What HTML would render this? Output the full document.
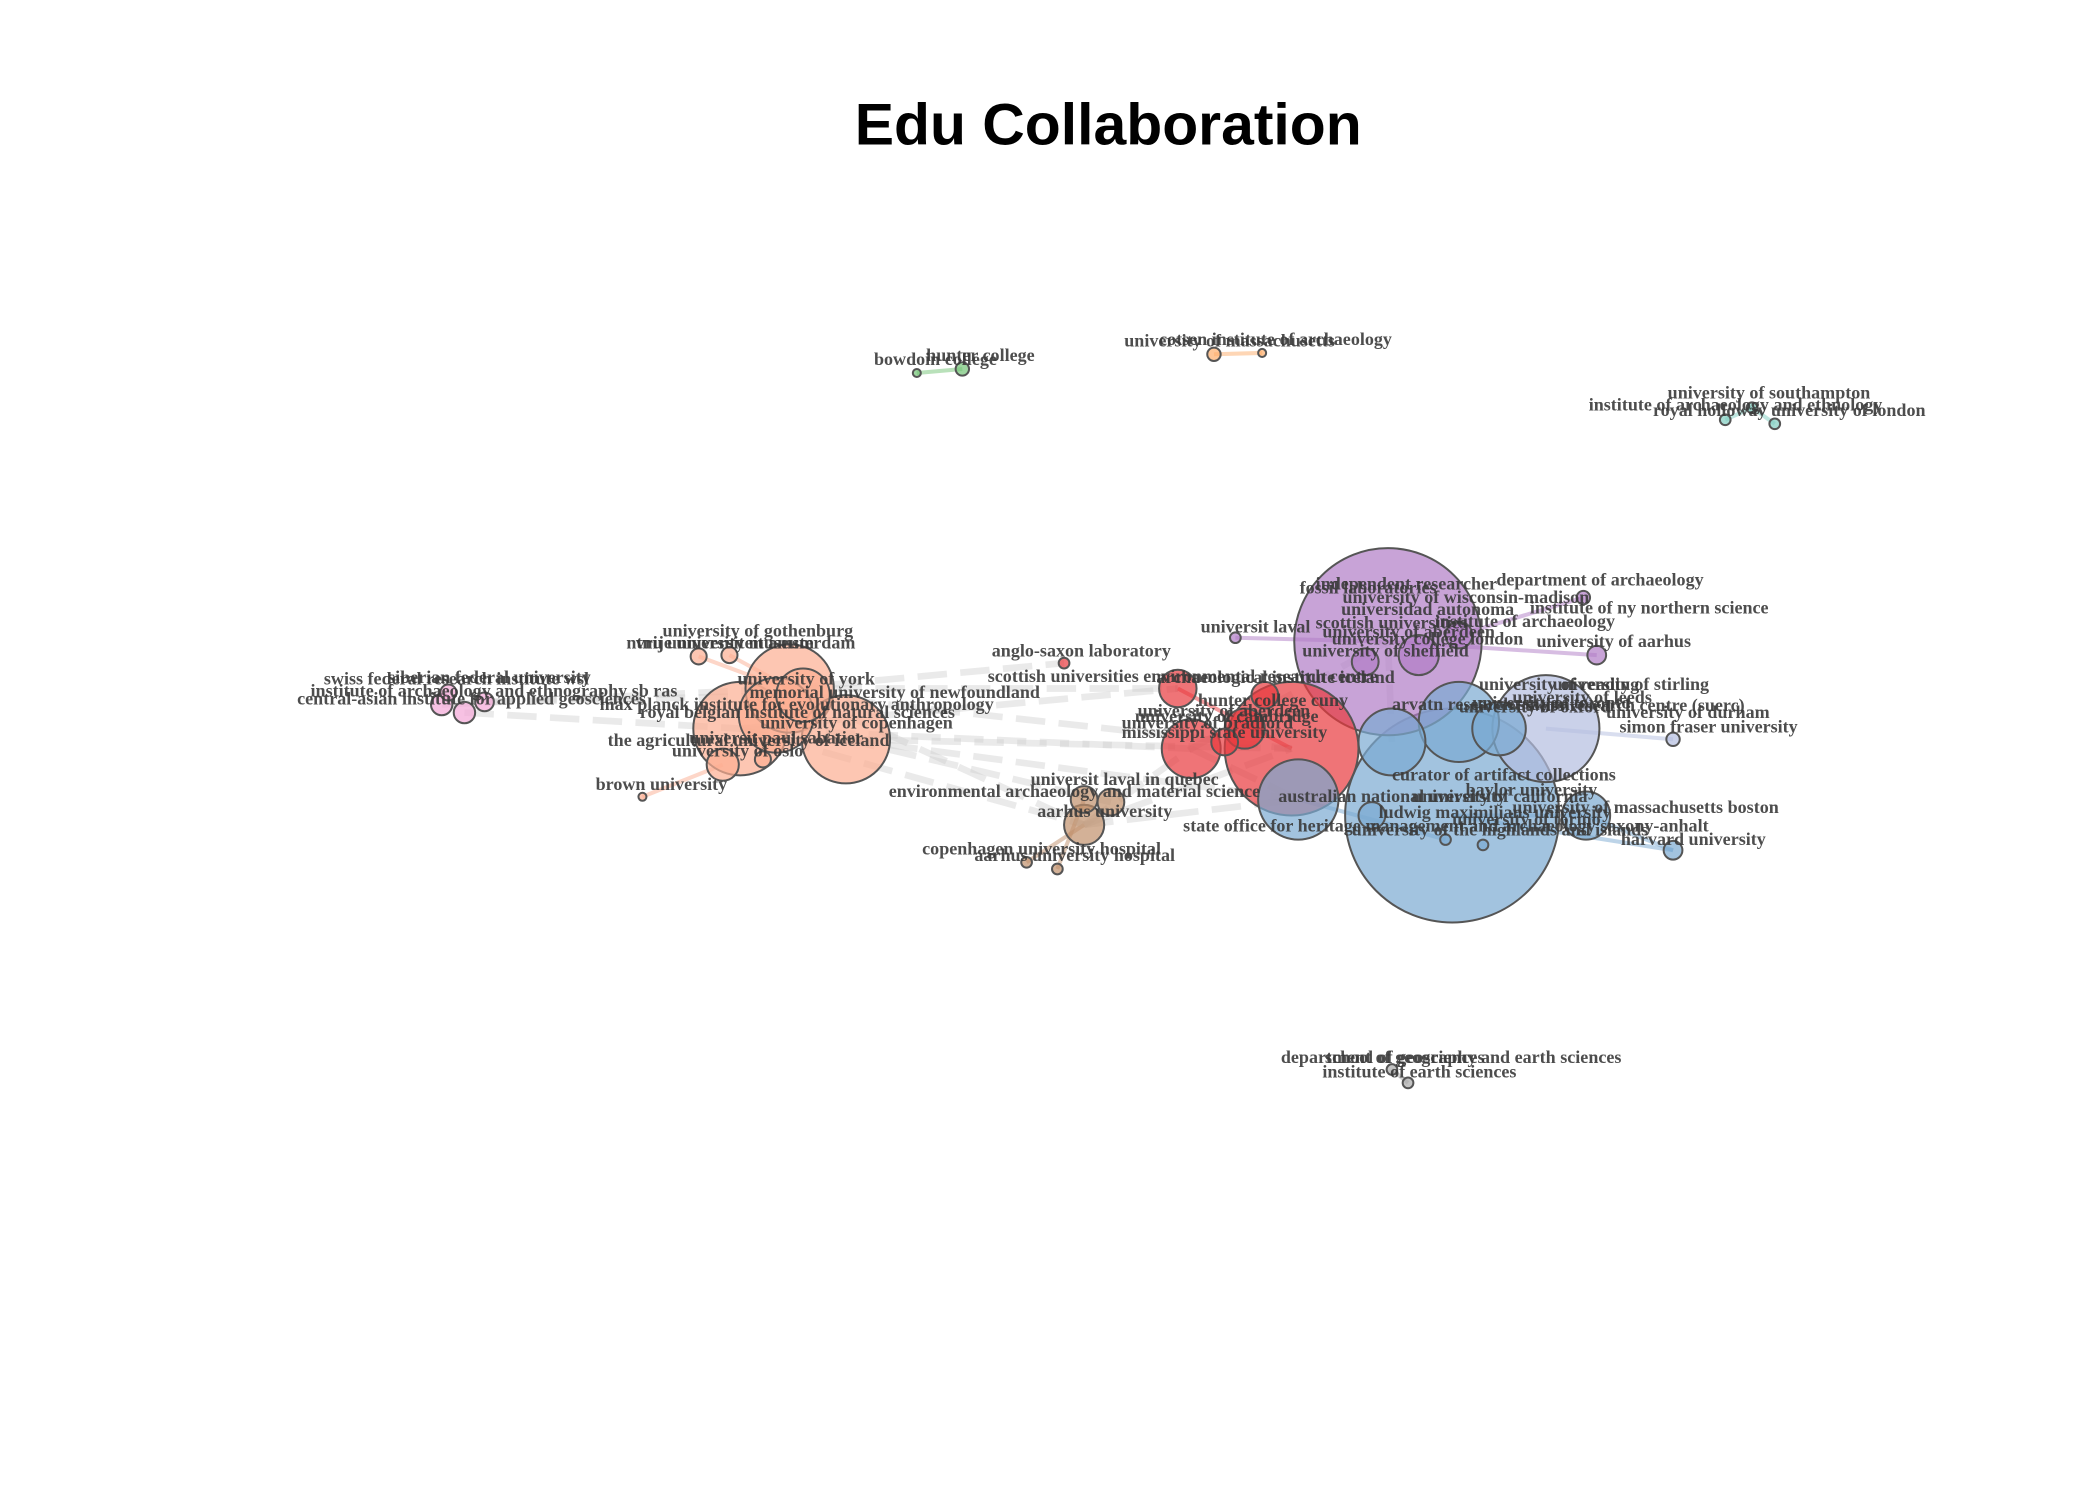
<!DOCTYPE html>
<html><head><meta charset="utf-8"><style>
html,body{margin:0;padding:0;background:#fff;}
svg{display:block;}
.lbl{font-family:"Liberation Serif",serif;font-weight:bold;font-size:13.5px;fill:#3a3a3a;opacity:.9;}
</style></head><body>
<svg id="chart" width="2100" height="1500" viewBox="0 0 1569 1122" preserveAspectRatio="none" xmlns="http://www.w3.org/2000/svg">
<rect width="1569" height="1122" fill="#fff"/>
<text x="828" y="108" text-anchor="middle" style="font-family:'Liberation Sans',sans-serif;font-weight:bold;font-size:44px" fill="#000">Edu Collaboration</text>
<g id="edges"></g>
<g id="nodes"></g>
<g id="labels"></g>
</svg>
<script>
const groupColors = {green:"#74c476",orange:"#fdae6b",teal:"#80cdc1",pink:"#f4a6d7",salmon:"#fcae91",red:"#e8393d",brown:"#c0906b",purple:"#b07cc6",blue:"#7ba9d1",lav:"#b3bedf",grey:"#aaaaaa"};
const nodeX = [685,719,907,943,1289,1309,1326,330,347,362,335,590,632,553,580,522,545,540,570,480,600,880,890,965,945,915,930,795,810,810,830,767,790,1037,1020,1060,1090,1193,1183,923,1085,970,1040,1090,1155,1185,1250,1250,1080,1108,1120,1025,1040,1052];
const nodeY = [279,276,265,264,314,305,317,527,533,525,518,515,553,545,535,491,490,572,568,596,520,515,560,560,520,555,545,496,617,598,600,645,650,480,495,490,475,490,447,477,610,598,555,540,545,610,636,553,628,632,545,610,800,810];
const nodeR = [3,5,5,3,4,4,4,8,8,7,6,33,33,35,28,6,6,12,6,3,20,14,22,50,10,10,15,4,15,10,10,4,4,70,10,15,10,7,5,4,80,30,25,30,40,18,7,5,4,4,20,10,4,4];
const nodeGroup = ["green","green","orange","orange","teal","teal","teal","pink","pink","pink","pink","salmon","salmon","salmon","salmon","salmon","salmon","salmon","salmon","salmon","salmon","red","red","red","red","red","red","red","brown","brown","brown","brown","brown","purple","purple","purple","purple","purple","purple","purple","blue","blue","blue","blue","lav","blue","blue","lav","blue","blue","blue","blue","grey","grey"];
const edgeFrom = [0,2,4,5,7,8,9,11,13,15,16,19,12,13,20,21,22,28,28,31,32,33,39,37,38,40,40,41,46,47,52,12,13,20,12,11,22,28];
const edgeTo   = [1,3,5,6,11,13,20,21,22,20,20,17,23,28,23,23,41,22,41,28,29,42,33,33,36,45,46,48,45,44,53,41,21,28,30,27,33,23];
const labelText = ["bowdoin college","hunter college","university of massachusetts","cotsen institute of archaeology","university of southampton","institute of archaeology and ethnology","royal holloway university of london","swiss federal research institute wsl","siberian federal university","institute of archaeology and ethnography sb ras","central-asian institute for applied geosciences","university of gothenburg","ntnu university museum","vrije universiteit amsterdam","university of york","memorial university of newfoundland","max planck institute for evolutionary anthropology","royal belgian institute of natural sciences","university of copenhagen","the agricultural university of iceland","universit paul sabatier","university of oslo","brown university","anglo-saxon laboratory","scottish universities environmental research centre","archaeological institute iceland","hunter college cuny","university of aberdeen","university of cambridge","university of bradford","mississippi state university","universit laval in quebec","environmental archaeology and material science","aarhus university","copenhagen university hospital","aarhus university hospital","independent researcher","fossil laboratories","university of wisconsin-madison","department of archaeology","universidad autonoma","institute of ny northern science","universit laval","scottish universities","institute of archaeology","university of aberdeen","university college london","university of sheffield","university of aarhus","university of reading","university of stirling","university of leeds","swiss research centre (suerc)","university of durham","simon fraser university","arvatn research station","university of oxford","university of toronto","curator of artifact collections","baylor university","australian national university","university of california","university of massachusetts boston","ludwig maximilians university","university of torino","state office for heritage management and archaeology saxony-anhalt","university of the highlands and islands","harvard university","department of geography and earth sciences","school of geosciences","institute of earth sciences"];
const labelX = [653,692,840,866,1246,1187,1235,242,290,232,222,495,468,475,551,560,448,478,568,454,515,502,445,741,738,864,895,850,848,838,838,770,664,775,689,728,983,971,1003,1118,1002,1143,897,983,1072,988,995,973,1148,1105,1160,1130,1140,1200,1210,1040,1090,1100,1040,1095,955,1055,1130,1030,1085,884,1010,1211,957,990,988];
const labelY = [273,270,259,258,298,307,311,512,511,521,527,476,485,485,512,522,531,537,545,558,556,566,591,491,510,511,528,536,540,545,552,587,596,611,639,644,441,444,451,438,460,459,473,470,469,477,482,491,484,516,516,526,532,537,548,531,533,530,584,595,600,600,608,612,617,622,625,632,795,795,806];
function ns(t){return document.createElementNS("http://www.w3.org/2000/svg",t);}
const eg=document.getElementById("edges"), ng=document.getElementById("nodes"), lg=document.getElementById("labels");
for(let i=0;i<edgeFrom.length;i++){
  const a=edgeFrom[i], b=edgeTo[i];
  const l=ns("line");
  
  
  l.setAttribute("x1",nodeX[a]);l.setAttribute("y1",nodeY[a]);
  l.setAttribute("x2",nodeX[b]);l.setAttribute("y2",nodeY[b]);
  const same=nodeGroup[a]===nodeGroup[b];
  l.setAttribute("stroke",same?groupColors[nodeGroup[a]]:"#d0d0d0");
  l.setAttribute("stroke-width",same?3:5);
  l.setAttribute("stroke-opacity",same?0.5:0.45);
  if(!same)l.setAttribute("stroke-dasharray","22 10");
  eg.appendChild(l);
}
const order=nodeR.map((r,i)=>i).sort((p,q)=>nodeR[q]-nodeR[p]);
for(const i of order){
  const c=ns("circle");
  
  
  c.setAttribute("cx",nodeX[i]);c.setAttribute("cy",nodeY[i]);c.setAttribute("r",nodeR[i]);
  c.setAttribute("fill",groupColors[nodeGroup[i]]);c.setAttribute("fill-opacity",0.7);
  c.setAttribute("stroke","#555");c.setAttribute("stroke-width",1.5);
  ng.appendChild(c);
}
for(let i=0;i<labelText.length;i++){
  const t=ns("text");
  
  
  t.setAttribute("x",labelX[i]);t.setAttribute("y",labelY[i]);
  t.setAttribute("class","lbl");
  t.textContent=labelText[i];
  lg.appendChild(t);
}
</script>
</body></html>
